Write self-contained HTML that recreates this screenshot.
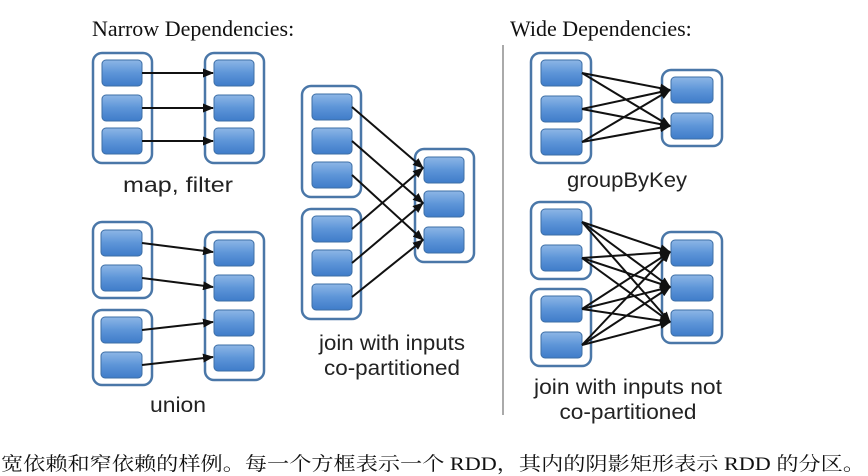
<!DOCTYPE html>
<html><head><meta charset="utf-8"><style>
html,body{margin:0;padding:0;background:#fff;}
svg{display:block;}
</style></head><body>
<svg width="868" height="476" viewBox="0 0 868 476" xmlns="http://www.w3.org/2000/svg">
<defs>
<linearGradient id="g" x1="0" y1="0" x2="0" y2="1">
<stop offset="0" stop-color="#8db6e6"/><stop offset="0.5" stop-color="#5d95d8"/><stop offset="1" stop-color="#3f7cc9"/>
</linearGradient>
<marker id="a" markerWidth="11" markerHeight="9" refX="10" refY="4.5" orient="auto" markerUnits="userSpaceOnUse">
<path d="M0,0 L11,4.5 L0,9 Z" fill="#111"/>
</marker>
<style>
.c{fill:#fff;stroke:#4a77a8;stroke-width:2.5;}
.b{fill:url(#g);stroke:#3e6fa6;stroke-width:1;}
.l{stroke:#111;stroke-width:2;marker-end:url(#a);}
.t{font-family:"Liberation Sans",sans-serif;font-size:21px;fill:#222;}
.h{font-family:"Liberation Serif",serif;font-size:22px;fill:#111;}
</style>
</defs>
<text class="h" x="92" y="36">Narrow Dependencies:</text>
<text class="h" x="510" y="36">Wide Dependencies:</text>
<line x1="503" y1="45" x2="503" y2="415" stroke="#aaa" stroke-width="2"/>

<!-- map filter -->
<rect class="c" x="93" y="53" width="59" height="110" rx="9"/>
<rect class="b" x="102" y="60" width="40" height="26" rx="4"/>
<rect class="b" x="102" y="95" width="40" height="26" rx="4"/>
<rect class="b" x="102" y="128" width="40" height="26" rx="4"/>
<rect class="c" x="205" y="53" width="59" height="110" rx="9"/>
<rect class="b" x="214" y="60" width="40" height="26" rx="4"/>
<rect class="b" x="214" y="95" width="40" height="26" rx="4"/>
<rect class="b" x="214" y="128" width="40" height="26" rx="4"/>
<line class="l" x1="142" y1="73" x2="213" y2="73"/>
<line class="l" x1="142" y1="108" x2="213" y2="108"/>
<line class="l" x1="142" y1="141" x2="213" y2="141"/>
<text class="t" x="178" y="192" text-anchor="middle" textLength="110" lengthAdjust="spacingAndGlyphs">map, filter</text>

<!-- union -->
<rect class="c" x="93" y="222" width="59" height="76" rx="9"/>
<rect class="b" x="101" y="230" width="41" height="26" rx="4"/>
<rect class="b" x="101" y="265" width="41" height="26" rx="4"/>
<rect class="c" x="93" y="310" width="59" height="75" rx="9"/>
<rect class="b" x="101" y="317" width="41" height="26" rx="4"/>
<rect class="b" x="101" y="352" width="41" height="26" rx="4"/>
<rect class="c" x="205" y="232" width="59" height="148" rx="9"/>
<rect class="b" x="214" y="240" width="40" height="26" rx="4"/>
<rect class="b" x="214" y="275" width="40" height="26" rx="4"/>
<rect class="b" x="214" y="310" width="40" height="26" rx="4"/>
<rect class="b" x="214" y="345" width="40" height="26" rx="4"/>
<line class="l" x1="142" y1="243" x2="213" y2="252"/>
<line class="l" x1="142" y1="278" x2="213" y2="287"/>
<line class="l" x1="142" y1="330" x2="213" y2="322"/>
<line class="l" x1="142" y1="365" x2="213" y2="357"/>
<text class="t" x="178" y="412" text-anchor="middle" textLength="56" lengthAdjust="spacingAndGlyphs">union</text>

<!-- join co-partitioned -->
<rect class="c" x="302" y="86" width="59" height="111" rx="9"/>
<rect class="b" x="312" y="94" width="40" height="26" rx="4"/>
<rect class="b" x="312" y="128" width="40" height="26" rx="4"/>
<rect class="b" x="312" y="162" width="40" height="26" rx="4"/>
<rect class="c" x="302" y="209" width="59" height="110" rx="9"/>
<rect class="b" x="312" y="216" width="40" height="26" rx="4"/>
<rect class="b" x="312" y="250" width="40" height="26" rx="4"/>
<rect class="b" x="312" y="284" width="40" height="26" rx="4"/>
<rect class="c" x="415" y="149" width="59" height="113" rx="9"/>
<rect class="b" x="424" y="157" width="40" height="26" rx="4"/>
<rect class="b" x="424" y="191" width="40" height="26" rx="4"/>
<rect class="b" x="424" y="227" width="40" height="26" rx="4"/>
<line class="l" x1="352" y1="107" x2="423" y2="168"/>
<line class="l" x1="352" y1="141" x2="423" y2="203"/>
<line class="l" x1="352" y1="175" x2="423" y2="240"/>
<line class="l" x1="352" y1="229" x2="423" y2="168"/>
<line class="l" x1="352" y1="263" x2="423" y2="203"/>
<line class="l" x1="352" y1="297" x2="423" y2="240"/>
<text class="t" x="392" y="350" text-anchor="middle" textLength="146" lengthAdjust="spacingAndGlyphs">join with inputs</text>
<text class="t" x="392" y="375" text-anchor="middle" textLength="136" lengthAdjust="spacingAndGlyphs">co-partitioned</text>

<!-- groupByKey -->
<rect class="c" x="531" y="53" width="60" height="110" rx="9"/>
<rect class="b" x="541" y="60" width="41" height="26" rx="4"/>
<rect class="b" x="541" y="96" width="41" height="26" rx="4"/>
<rect class="b" x="541" y="129" width="41" height="26" rx="4"/>
<rect class="c" x="662" y="70" width="60" height="76" rx="9"/>
<rect class="b" x="671" y="77" width="42" height="26" rx="4"/>
<rect class="b" x="671" y="113" width="42" height="26" rx="4"/>
<line class="l" x1="582" y1="73" x2="670" y2="90"/>
<line class="l" x1="582" y1="73" x2="670" y2="126"/>
<line class="l" x1="582" y1="109" x2="670" y2="90"/>
<line class="l" x1="582" y1="109" x2="670" y2="126"/>
<line class="l" x1="582" y1="142" x2="670" y2="90"/>
<line class="l" x1="582" y1="142" x2="670" y2="126"/>
<text class="t" x="627" y="187" text-anchor="middle" textLength="120" lengthAdjust="spacingAndGlyphs">groupByKey</text>

<!-- join not co-partitioned -->
<rect class="c" x="531" y="202" width="60" height="77" rx="9"/>
<rect class="b" x="541" y="209" width="41" height="26" rx="4"/>
<rect class="b" x="541" y="245" width="41" height="26" rx="4"/>
<rect class="c" x="531" y="289" width="60" height="77" rx="9"/>
<rect class="b" x="541" y="296" width="41" height="26" rx="4"/>
<rect class="b" x="541" y="332" width="41" height="26" rx="4"/>
<rect class="c" x="662" y="232" width="60" height="111" rx="9"/>
<rect class="b" x="671" y="240" width="42" height="26" rx="4"/>
<rect class="b" x="671" y="275" width="42" height="26" rx="4"/>
<rect class="b" x="671" y="310" width="42" height="26" rx="4"/>
<g>
<line class="l" x1="582" y1="222" x2="670" y2="252"/>
<line class="l" x1="582" y1="222" x2="670" y2="287"/>
<line class="l" x1="582" y1="222" x2="670" y2="322"/>
<line class="l" x1="582" y1="258" x2="670" y2="252"/>
<line class="l" x1="582" y1="258" x2="670" y2="287"/>
<line class="l" x1="582" y1="258" x2="670" y2="322"/>
<line class="l" x1="582" y1="309" x2="670" y2="252"/>
<line class="l" x1="582" y1="309" x2="670" y2="287"/>
<line class="l" x1="582" y1="309" x2="670" y2="322"/>
<line class="l" x1="582" y1="345" x2="670" y2="252"/>
<line class="l" x1="582" y1="345" x2="670" y2="287"/>
<line class="l" x1="582" y1="345" x2="670" y2="322"/>
</g>
<text class="t" x="628" y="394" text-anchor="middle" textLength="188" lengthAdjust="spacingAndGlyphs">join with inputs not</text>
<text class="t" x="628" y="419" text-anchor="middle" textLength="137" lengthAdjust="spacingAndGlyphs">co-partitioned</text>

<text x="1" y="470" font-family="'Liberation Serif','Noto Serif CJK SC',serif" font-size="19" fill="#111" textLength="864" lengthAdjust="spacingAndGlyphs">宽依赖和窄依赖的样例。每一个方框表示一个 RDD，其内的阴影矩形表示 RDD 的分区。</text>
</svg>
</body></html>
